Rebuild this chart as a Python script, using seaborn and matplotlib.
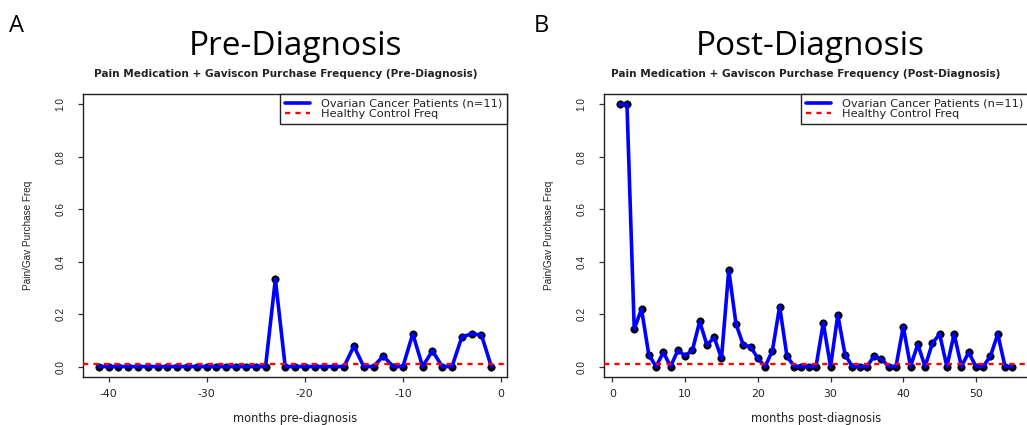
import numpy as np
import pandas as pd
import matplotlib
matplotlib.use("Agg")
import matplotlib.pyplot as plt
import seaborn as sns

# ---------------- data ----------------
pre_months = list(range(-41, 0))
pre_freq = ([0.0] * 18 + [0.333] + [0.0] * 7 +
            [0.078, 0.0, 0.0, 0.04, 0.0, 0.0, 0.125, 0.0, 0.06, 0.0, 0.0,
             0.113, 0.125, 0.12, 0.0])

post_months = list(range(1, 56))
post_freq = [1.0, 1.0, 0.143, 0.219, 0.045, 0.0, 0.054, 0.0, 0.062, 0.041,
             0.062, 0.172, 0.082, 0.111, 0.031, 0.368, 0.162, 0.082, 0.076, 0.031,
             0.0, 0.06, 0.229, 0.04, 0.0, 0.0, 0.0, 0.0, 0.166, 0.0,
             0.197, 0.045, 0.0, 0.0, 0.0, 0.04, 0.028, 0.0, 0.0, 0.152,
             0.0, 0.085, 0.0, 0.088, 0.124, 0.0, 0.124, 0.0, 0.054, 0.0,
             0.0, 0.04, 0.124, 0.0, 0.0]

healthy_freq = 0.011

pre_xticks = [-40, -30, -20, -10, 0]
post_xticks = [0, 10, 20, 30, 40, 50]
yticks = [0.0, 0.2, 0.4, 0.6, 0.8, 1.0]
ytick_labels = ["0.0", "0.2", "0.4", "0.6", "0.8", "1.0"]

panel_letters = ["A", "B"]
titles = ["Pre-Diagnosis", "Post-Diagnosis"]
subtitles = ["Pain Medication + Gaviscon Purchase Frequency (Pre-Diagnosis)",
             "Pain Medication + Gaviscon Purchase Frequency (Post-Diagnosis)"]
xlabels = ["months pre-diagnosis", "months post-diagnosis"]
ylabel = "Pain/Gav Purchase Freq"
series_label = "Ovarian Cancer Patients (n=11)"
control_label = "Healthy Control Freq"

# ---------------- style ----------------
sns.set_style("white")
plt.rcParams["font.family"] = ["Liberation Sans", "DejaVu Sans"]
WIDE = ["DejaVu Sans"]

W, H = 1027, 425
fig = plt.figure(figsize=(W / 100, H / 100), dpi=100)

axes_px = [(83, 94, 507, 377), (604, 94, 1028, 377)]
title_cx = [295, 810]
sub_cx = [286, 806]
letter_x = [9, 534]

datasets = [(pre_months, pre_freq, pre_xticks), (post_months, post_freq, post_xticks)]

for i, ((months, freq, xt), (x0, y0, x1, y1)) in enumerate(zip(datasets, axes_px)):
    ax = fig.add_axes([x0 / W, 1 - y1 / H, (x1 - x0) / W, (y1 - y0) / H])
    df = pd.DataFrame({"month": months, "freq": freq})

    sns.scatterplot(data=df, x="month", y="freq", ax=ax, color="black",
                    s=28, edgecolor="black", linewidth=0.5, zorder=2, legend=False)
    sns.lineplot(data=df, x="month", y="freq", ax=ax, color="#0000FF",
                 linewidth=2.6, zorder=3, label=series_label)
    ax.axhline(healthy_freq, color="#FF0000", linestyle=(0, (2.2, 2.2)),
               linewidth=1.7, zorder=4, label=control_label)

    span = max(months) - min(months)
    ax.set_xlim(min(months) - 0.04 * span, max(months) + 0.04 * span)
    ax.set_ylim(-0.04, 1.04)

    ax.set_xticks(xt)
    ax.set_xticklabels([str(v) for v in xt], fontsize=7.8, family=WIDE)
    ax.set_yticks(yticks)
    ax.set_yticklabels(ytick_labels, fontsize=7.2, rotation=90, va="center")
    ax.tick_params(axis="both", direction="out", length=3.8, width=0.9,
                   color="#333333", labelcolor="#222222", bottom=True, left=True)
    ax.tick_params(axis="x", pad=4.5)
    ax.tick_params(axis="y", pad=9)

    ax.set_xlabel(xlabels[i], fontsize=8.3, color="#222222", family=WIDE)
    ax.xaxis.set_label_coords(0.5, -0.148)
    ax.xaxis.label.set_va("center")
    ax.set_ylabel(ylabel, fontsize=7.2, color="#222222")
    ax.yaxis.set_label_coords(-0.13, 0.5)
    ax.yaxis.label.set_va("center")

    for sp in ax.spines.values():
        sp.set_visible(True)
        sp.set_color("#222222")
        sp.set_linewidth(1.0)

    leg = ax.legend(loc="upper right", borderaxespad=0, fancybox=False,
                    edgecolor="#222222", framealpha=1,
                    prop={"family": WIDE, "size": 8.2},
                    handlelength=2.2, handletextpad=1.0, labelspacing=0.05,
                    borderpad=0.4)
    leg.get_frame().set_linewidth(1.0)
    for t in leg.get_texts():
        t.set_color("#222222")

    fig.text(letter_x[i] / W, 1 - 32 / H, panel_letters[i], fontsize=17,
             family=["Open Sans", "DejaVu Sans"], ha="left", va="baseline",
             color="black")
    fig.text(title_cx[i] / W, 1 - 55 / H, titles[i], fontsize=24,
             family=["Open Sans", "DejaVu Sans"], ha="center", va="baseline",
             color="black")
    fig.text(sub_cx[i] / W, 1 - 77 / H, subtitles[i], fontsize=7.6,
             fontweight="bold", color="#222222", ha="center", va="baseline",
             family=WIDE)

fig.savefig("out.png", dpi=100, facecolor="white")
